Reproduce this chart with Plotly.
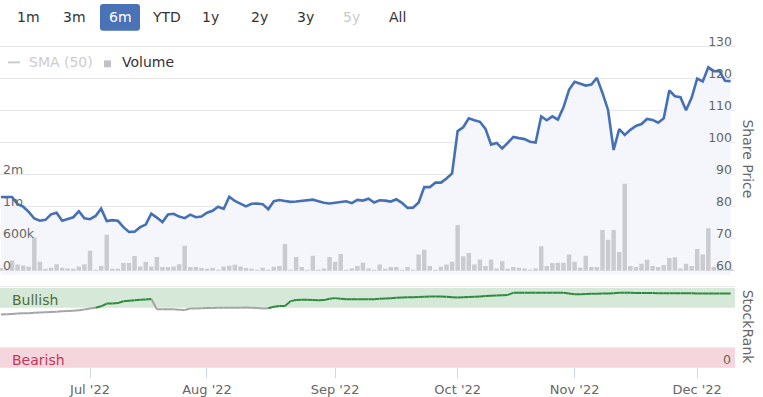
import plotly.graph_objects as go
import pandas as pd

# ---------------- data ----------------
dates = pd.bdate_range("2022-06-09", "2022-12-09")  # trading days shown (132)

share_price = [
    83.0, 83.0, 83.0, 80.8, 80.0, 78.4, 76.3, 75.6, 75.9, 77.6,
    78.1, 75.6, 76.1, 76.7, 78.6, 76.4, 76.1, 77.1, 79.4, 75.5,
    75.8, 75.6, 73.6, 72.1, 72.2, 73.6, 74.4, 77.8, 76.6, 75.2,
    77.6, 77.8, 76.9, 76.4, 77.5, 76.7, 76.9, 78.1, 78.7, 80.0,
    79.3, 83.1, 81.8, 80.9, 80.1, 80.9, 81.0, 80.8, 79.2, 81.7,
    82.1, 81.8, 81.5, 81.6, 81.8, 81.9, 82.2, 81.7, 81.2, 81.0,
    81.3, 81.6, 81.7, 81.1, 82.1, 81.9, 82.5, 81.3, 82.0, 81.9,
    81.6, 82.3, 81.2, 79.6, 79.7, 81.3, 86.1, 86.1, 87.5, 87.5,
    88.8, 90.4, 103.6, 104.8, 107.6, 107.0, 106.5, 104.3, 99.4, 99.9,
    98.2, 99.9, 101.8, 101.4, 101.1, 100.3, 100.0, 108.2, 107.0, 108.2,
    107.2, 111.0, 116.5, 119.0, 118.5, 117.8, 118.1, 120.2, 115.5, 110.2,
    97.7, 104.2, 102.4, 104.0, 105.2, 105.8, 107.4, 107.1, 106.2, 107.6,
    116.3, 114.5, 114.2, 110.1, 114.0, 120.0, 119.1, 123.5, 122.3, 122.4,
    119.3, 119.2,
]

volume_k = [
    50, 40, 191, 117, 98, 74, 624, 167, 24, 56,
    124, 56, 43, 24, 80, 124, 376, 5, 87, 672,
    31, 31, 143, 143, 278, 80, 167, 80, 259, 69,
    69, 80, 124, 469, 69, 69, 50, 37, 50, 5,
    80, 93, 111, 80, 50, 28, 6, 56, 6, 74,
    87, 500, 6, 259, 69, 6, 283, 6, 43, 259,
    167, 315, 6, 43, 87, 148, 43, 6, 117, 37,
    69, 69, 6, 69, 6, 302, 394, 87, 6, 74,
    117, 167, 857, 272, 333, 117, 209, 87, 209, 43,
    180, 28, 69, 56, 43, 6, 43, 457, 87, 143,
    148, 148, 302, 167, 56, 283, 69, 69, 765, 580,
    765, 352, 1630, 87, 69, 130, 204, 87, 69, 106,
    241, 254, 43, 130, 87, 407, 302, 796, 69, 43,
    28, 28,
]

stock_rank = [
    66.6, 67.0, 67.4, 67.8, 68.1, 68.3, 68.8, 69.1, 69.4, 69.8,
    70.2, 70.6, 71.0, 71.5, 72.0, 72.9, 74.1, 75.2, 77.0, 80.4,
    80.6, 81.0, 83.3, 84.0, 84.7, 85.2, 85.7, 86.2, 73.3, 73.3,
    73.3, 73.3, 72.6, 72.4, 74.1, 74.3, 74.5, 74.7, 74.9, 75.0,
    75.1, 75.2, 75.3, 75.3, 75.4, 75.3, 74.8, 74.3, 74.6, 76.5,
    77.5, 77.5, 83.5, 85.0, 85.3, 85.1, 84.9, 84.7, 84.8, 86.5,
    87.3, 86.5, 85.9, 85.9, 85.9, 85.9, 85.9, 86.0, 86.4, 86.8,
    87.2, 87.7, 88.0, 88.3, 88.5, 88.7, 88.9, 89.2, 89.4, 89.5,
    89.0, 88.4, 88.0, 88.3, 88.6, 89.0, 89.4, 89.9, 90.3, 90.6,
    91.0, 91.4, 94.0, 94.1, 94.1, 94.1, 94.1, 94.1, 94.1, 94.1,
    94.1, 94.1, 93.0, 92.1, 92.3, 92.5, 92.7, 92.9, 93.0, 93.3,
    93.6, 94.0, 94.0, 94.0, 93.9, 93.8, 93.7, 93.7, 93.6, 93.6,
    93.5, 93.5, 93.5, 93.4, 93.4, 93.3, 93.3, 93.2, 93.2, 93.1,
    93.1, 93.0,
]

price_ticks = [60, 70, 80, 90, 100, 110, 120, 130]
volume_ticks = [0, 600000, 1200000, 1800000]
volume_tick_text = ["0", "600k", "1m", "2m"]
rank_tick_text = "0"
month_ticks = ["2022-07-01", "2022-08-01", "2022-09-01", "2022-10-03", "2022-11-01", "2022-12-01"]
month_text = ["Jul '22", "Aug '22", "Sep '22", "Oct '22", "Nov '22", "Dec '22"]
range_buttons = ["1m", "3m", "6m", "YTD", "1y", "2y", "3y", "5y", "All"]
bullish_band = [75, 100]
bearish_band = [0, 25]
bullish_threshold = 76

# ---------------- helpers ----------------
W, H = 763, 397
def px(x):
    return x / W
def py(y):
    return 1 - y / H

FONT = "DejaVu Sans"
volumes = [v * 1000 for v in volume_k]

# stock-rank line split by colour zone
green_x, green_y, grey_x, grey_y = [], [], [], []
for i in range(1, len(stock_rank)):
    seg_x = [dates[i - 1], dates[i]]
    seg_y = [stock_rank[i - 1], stock_rank[i]]
    if stock_rank[i] >= bullish_threshold:
        green_x += seg_x + [None]
        green_y += seg_y + [None]
    else:
        grey_x += seg_x + [None]
        grey_y += seg_y + [None]

fig = go.Figure()

fig.add_trace(go.Scatter(
    x=dates, y=share_price, mode="lines", xaxis="x", yaxis="y",
    line=dict(color="#4670b5", width=2.6), fill="tozeroy", fillcolor="#f4f6fb",
    hoverinfo="skip",
))
fig.add_trace(go.Bar(
    x=dates, y=volumes, xaxis="x", yaxis="y2", marker=dict(color="#c9cbd1", line=dict(width=0)),
    hoverinfo="skip",
))
fig.add_trace(go.Scatter(
    x=grey_x, y=grey_y, mode="lines", xaxis="x", yaxis="y3",
    line=dict(color="#a4a4a4", width=2), hoverinfo="skip",
))
fig.add_trace(go.Scatter(
    x=green_x, y=green_y, mode="lines", xaxis="x", yaxis="y3",
    line=dict(color="#2e8b3d", width=2), hoverinfo="skip",
))

# price pane: 60 at y=273.5px, 130 at y=47px (3.236 px per unit); pane spans y=24..277.5px
PANE_TOP, PANE_BOT, BASE = 24, 277.5, 273.5
PPU = 3.236
price_rng = [60 - (PANE_BOT - BASE) / PPU, 130 + (47 - PANE_TOP) / PPU]
price_dom = [py(PANE_BOT), py(PANE_TOP)]
vol_per_px = 600000 / (10 * PPU)
vol_rng = [-(PANE_BOT - BASE) * vol_per_px, (BASE - PANE_TOP) * vol_per_px]
# rank pane: 0 at y=371px, 100 at y=291px
rank_dom = [py(371), py(291)]
x_dom = [0, px(735)]

fig.update_layout(
    width=W, height=H, margin=dict(l=0, r=0, t=0, b=0),
    paper_bgcolor="white", plot_bgcolor="white", showlegend=False,
    bargap=0.2,
    font=dict(family=FONT, color="#666666"),
    xaxis=dict(
        domain=x_dom, anchor="y3", type="date",
        range=["2022-06-08 20:10", "2022-12-09 19:00"],
        rangebreaks=[dict(bounds=["sat", "mon"])],
        tickmode="array", tickvals=month_ticks, ticktext=month_text,
        ticks="outside", ticklen=10, tickcolor="#ccd6eb", tickwidth=1,
        tickfont=dict(size=13, color="#666666", family=FONT),
        showgrid=False, showline=True, linecolor="#e6e6e6", linewidth=1,
        zeroline=False,
    ),
    yaxis=dict(
        domain=price_dom, anchor="x", side="right", range=price_rng,
        tickmode="array", tickvals=price_ticks,
        ticklabelposition="inside top", ticks="", ticklabelshift=4,
        tickfont=dict(size=12.5, color="#666666", family=FONT),
        showgrid=True, gridcolor="#e6e6e6", gridwidth=1, zeroline=False,
    ),
    yaxis2=dict(
        overlaying="y", anchor="x", side="left", range=vol_rng,
        tickmode="array", tickvals=volume_ticks, ticktext=volume_tick_text,
        ticklabelposition="inside top", ticks="", ticklabelshift=4,
        tickfont=dict(size=12.5, color="#666666", family=FONT),
        showgrid=False, zeroline=False,
    ),
    yaxis3=dict(
        domain=rank_dom, anchor="x", side="right", range=[0, 100],
        showticklabels=False, ticks="",
        showgrid=False, zeroline=False,
    ),
)

shapes = [
    dict(type="rect", xref="x domain", yref="y3", x0=0, x1=1,
         y0=bullish_band[0], y1=bullish_band[1], fillcolor="#d6e9d9",
         line=dict(width=0), layer="below"),
    dict(type="rect", xref="x domain", yref="y3", x0=0, x1=1,
         y0=bearish_band[0], y1=bearish_band[1], fillcolor="#f5d6dc",
         line=dict(width=0), layer="below"),
    dict(type="line", xref="paper", yref="paper", x0=0, x1=px(735), y0=py(289.5), y1=py(289.5),
         line=dict(color="#e6e6e6", width=1)),
    # selected range button
    dict(type="path", xref="paper", yref="paper",
         path=(f"M {px(103)},{py(4)} L {px(137)},{py(4)} Q {px(140)},{py(4)} {px(140)},{py(7)} "
               f"L {px(140)},{py(28)} Q {px(140)},{py(31)} {px(137)},{py(31)} "
               f"L {px(103)},{py(31)} Q {px(100)},{py(31)} {px(100)},{py(28)} "
               f"L {px(100)},{py(7)} Q {px(100)},{py(4)} {px(103)},{py(4)} Z"),
         fillcolor="#4a72b6", line=dict(width=0)),
    # legend symbols
    dict(type="line", xref="paper", yref="paper", x0=px(8), x1=px(20), y0=py(63), y1=py(63),
         line=dict(color="#cccccc", width=2)),
    dict(type="rect", xref="paper", yref="paper", x0=px(104), x1=px(111), y0=py(61), y1=py(68),
         fillcolor="#c0c2c8", line=dict(width=0)),
]

button_centers = [28.5, 74, 120.5, 166.5, 210.5, 259, 305, 351.5, 397.5]
annotations = []
for lab, cx in zip(range_buttons, button_centers):
    col = "#333333"
    if lab == "6m":
        col = "#ffffff"
    elif lab == "5y":
        col = "#cccccc"
    annotations.append(dict(text=lab, x=px(cx), y=py(17.5), xref="paper", yref="paper",
                            showarrow=False, xanchor="center", yanchor="middle",
                            font=dict(size=14, color=col, family=FONT)))

annotations += [
    dict(text="SMA (50)", x=px(27), y=py(63), xref="paper", yref="paper", showarrow=False,
         xanchor="left", yanchor="middle", font=dict(size=14, color="#cccccc", family=FONT)),
    dict(text="Volume", x=px(120), y=py(63), xref="paper", yref="paper", showarrow=False,
         xanchor="left", yanchor="middle", font=dict(size=14, color="#333333", family=FONT)),
    dict(text="Share Price", x=px(748), y=py(160), xref="paper", yref="paper", showarrow=False,
         textangle=90, xanchor="center", yanchor="middle",
         font=dict(size=14, color="#666666", family=FONT)),
    dict(text="StockRank", x=px(748), y=py(330), xref="paper", yref="paper", showarrow=False,
         textangle=90, xanchor="center", yanchor="middle",
         font=dict(size=14, color="#666666", family=FONT)),
    dict(text="Bullish", x=px(10), y=py(303.5), xref="paper", yref="paper", showarrow=False,
         xanchor="left", yanchor="middle", font=dict(size=14, color="#4f6f35", family=FONT)),
    dict(text="Bearish", x=px(10), y=py(364), xref="paper", yref="paper", showarrow=False,
         xanchor="left", yanchor="middle", font=dict(size=14, color="#c4365a", family=FONT)),
    # StockRank axis label at 0
    dict(text=rank_tick_text, x=px(733), y=py(363), xref="paper", yref="paper", showarrow=False,
         xanchor="right", yanchor="middle", font=dict(size=12.5, color="#666666", family=FONT)),
]

fig.update_layout(shapes=shapes, annotations=annotations)
fig.write_html(
    "out.html",
    config={"displayModeBar": False},
    post_script="document.body.style.margin='0';document.body.style.overflow='hidden';",
)
